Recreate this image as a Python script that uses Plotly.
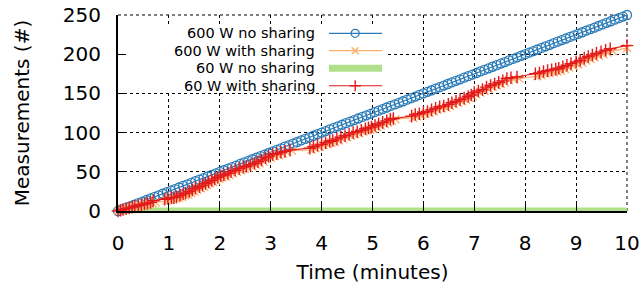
import plotly.graph_objects as go

# ---------------- data ----------------
series_names = ["600 W no sharing", "600 W with sharing", "60 W no sharing", "60 W with sharing"]
x_ticks = [0, 1, 2, 3, 4, 5, 6, 7, 8, 9, 10]
y_ticks = [0, 50, 100, 150, 200, 250]

blue_t = [0.00, 0.08, 0.16, 0.24, 0.32, 0.40, 0.48, 0.56, 0.64, 0.72,
          0.80, 0.88, 0.96, 1.04, 1.12, 1.20, 1.28, 1.36, 1.44, 1.52,
          1.60, 1.68, 1.76, 1.84, 1.92, 2.00, 2.08, 2.16, 2.24, 2.32,
          2.40, 2.48, 2.56, 2.64, 2.72, 2.80, 2.88, 2.96, 3.04, 3.12,
          3.20, 3.28, 3.36, 3.44, 3.52, 3.60, 3.68, 3.76, 3.84, 3.92,
          4.00, 4.08, 4.16, 4.24, 4.32, 4.40, 4.48, 4.56, 4.64, 4.72,
          4.80, 4.88, 4.96, 5.04, 5.12, 5.20, 5.28, 5.36, 5.44, 5.52,
          5.60, 5.68, 5.76, 5.84, 5.92, 6.00, 6.08, 6.16, 6.24, 6.32,
          6.40, 6.48, 6.56, 6.64, 6.72, 6.80, 6.88, 6.96, 7.04, 7.12,
          7.20, 7.28, 7.36, 7.44, 7.52, 7.60, 7.68, 7.76, 7.84, 7.92,
          8.00, 8.08, 8.16, 8.24, 8.32, 8.40, 8.48, 8.56, 8.64, 8.72,
          8.80, 8.88, 8.96, 9.04, 9.12, 9.20, 9.28, 9.36, 9.44, 9.52,
          9.60, 9.68, 9.76, 9.84, 9.92, 10.00]
blue_v = [0, 2, 4, 6, 8, 10, 12, 14, 16, 18,
          20, 22, 24, 26, 28, 30, 32, 34, 36, 38,
          40, 42, 44, 46, 48, 50, 52, 54, 56, 58,
          60, 62, 64, 66, 68, 70, 72, 74, 76, 78,
          80, 82, 84, 86, 88, 90, 92, 94, 96, 98,
          100, 102, 104, 106, 108, 110, 112, 114, 116, 118,
          120, 122, 124, 126, 128, 130, 132, 134, 136, 138,
          140, 142, 144, 146, 148, 150, 152, 154, 156, 158,
          160, 162, 164, 166, 168, 170, 172, 174, 176, 178,
          180, 182, 184, 186, 188, 190, 192, 194, 196, 198,
          200, 202, 204, 206, 208, 210, 212, 214, 216, 218,
          220, 222, 224, 226, 228, 230, 232, 234, 236, 238,
          240, 242, 244, 246, 248, 250]

orange_t = [0.00, 0.06, 0.12, 0.18, 0.25, 0.31, 0.37, 0.44, 0.50, 0.56, 0.62, 0.68, 0.74,
            0.95, 1.02, 1.08, 1.14, 1.20, 1.26, 1.32, 1.38, 1.44, 1.50, 1.56, 1.63, 1.69, 1.75, 1.81,
            1.87, 1.93, 1.99, 2.05, 2.12, 2.19, 2.26, 2.34, 2.42, 2.49, 2.56, 2.64, 2.71, 2.78, 2.86,
            2.93, 3.00, 3.08, 3.16, 3.24, 3.32, 3.42,
            3.80, 3.88, 3.96, 4.04, 4.12, 4.19, 4.26, 4.34, 4.42, 4.50, 4.58, 4.66, 4.74, 4.82, 4.89,
            4.95, 5.02, 5.09, 5.16, 5.24, 5.31, 5.38, 5.45,
            5.80, 5.88, 5.96, 6.04, 6.12, 6.20, 6.28, 6.36, 6.45, 6.52, 6.60, 6.68, 6.76, 6.84, 6.91,
            6.97, 7.04, 7.12, 7.20, 7.28, 7.36, 7.44, 7.52, 7.60, 7.68, 7.78, 7.88,
            8.24, 8.32, 8.40, 8.48, 8.56, 8.63, 8.70, 8.78, 8.86, 8.95, 9.04, 9.12, 9.20, 9.28, 9.36,
            9.45, 9.54, 9.62, 9.72,
            10.00]
orange_v = [0, 1, 2, 3, 4, 5, 6, 7, 7, 8, 9, 10, 11,
            13, 14, 15, 16, 17, 18, 20, 21, 23, 25, 27, 29, 31, 33, 35,
            37, 39, 41, 43, 44, 46, 48, 50, 52, 54, 55, 57, 59, 61, 63,
            66, 68, 70, 71, 73, 75, 77,
            78, 80, 82, 84, 85, 87, 88, 90, 92, 94, 96, 98, 99, 101, 103,
            104, 105, 107, 109, 111, 113, 115, 117,
            119, 121, 122, 124, 125, 127, 129, 131, 132, 134, 136, 138, 140, 142, 144,
            146, 149, 151, 153, 156, 158, 160, 162, 164, 167, 168, 169,
            172, 173, 175, 176, 177, 178, 179, 181, 183, 185, 187, 189, 192, 194, 196,
            198, 200, 202, 204,
            208]

green_t = [0.0, 2.0, 4.0, 6.0, 8.0, 10.0]
green_v = [0, 0, 0, 0, 0, 0]

red_t = [0.00, 0.05, 0.10, 0.16, 0.22, 0.28, 0.33, 0.40, 0.46, 0.52, 0.58, 0.64, 0.69,
         0.92, 0.98, 1.05, 1.10, 1.15, 1.22, 1.28, 1.33, 1.40, 1.46, 1.52, 1.60, 1.66, 1.72, 1.78,
         1.84, 1.90, 1.96, 2.02, 2.08, 2.16, 2.22, 2.30, 2.38, 2.46, 2.52, 2.60, 2.68, 2.75, 2.82,
         2.90, 2.96, 3.04, 3.12, 3.20, 3.28, 3.38,
         3.77, 3.84, 3.92, 4.00, 4.08, 4.16, 4.22, 4.30, 4.38, 4.46, 4.54, 4.62, 4.70, 4.78, 4.86,
         4.92, 4.98, 5.05, 5.12, 5.20, 5.28, 5.35, 5.41,
         5.77, 5.84, 5.92, 6.00, 6.08, 6.16, 6.24, 6.32, 6.40, 6.49, 6.56, 6.64, 6.72, 6.80, 6.88,
         6.94, 7.00, 7.08, 7.16, 7.24, 7.32, 7.40, 7.48, 7.56, 7.64, 7.72, 7.84,
         8.20, 8.28, 8.36, 8.44, 8.52, 8.60, 8.66, 8.74, 8.82, 8.90, 9.00, 9.08, 9.16, 9.24, 9.32,
         9.40, 9.49, 9.58, 9.67,
         10.00]
red_v = [0, 1, 2, 3, 4, 5, 6, 7, 8, 9, 10, 11, 13,
         15, 16, 17, 17, 18, 20, 22, 23, 25, 27, 29, 31, 33, 35, 37,
         39, 41, 43, 45, 46, 48, 50, 52, 54, 56, 57, 59, 61, 63, 65,
         68, 70, 72, 73, 75, 76, 78,
         80, 82, 84, 85, 87, 89, 90, 92, 94, 96, 98, 100, 101, 103, 105,
         106, 107, 109, 111, 113, 115, 117, 118,
         121, 123, 124, 126, 127, 129, 131, 133, 134, 136, 138, 140, 142, 144, 146,
         148, 151, 153, 155, 158, 160, 162, 164, 166, 169, 170, 171,
         175, 176, 178, 179, 180, 181, 182, 184, 186, 188, 190, 192, 195, 197, 199,
         201, 203, 205, 207,
         211]

# ---------------- style ----------------
BLUE = "#2a7bb8"
ORANGE = "#fdae6b"
GREEN = "#b2df8a"
RED = "#e31a1c"
FONT = "DejaVu Sans"

styles = [
    dict(color=BLUE, symbol="circle-open", size=9, lw=1.2, mlw=1.3, mode="lines+markers"),
    dict(color=ORANGE, symbol="x-thin-open", size=8, lw=1.2, mlw=1.4, mode="lines+markers"),
    dict(color=GREEN, symbol=None, size=0, lw=7, mlw=0, mode="lines"),
    dict(color=RED, symbol="cross-thin-open", size=9, lw=1.1, mlw=1.4, mode="lines+markers"),
]

data = [(blue_t, blue_v), (orange_t, orange_v), (green_t, green_v), (red_t, red_v)]
draw_order = [2, 0, 1, 3]

fig = go.Figure()
for i in draw_order:
    st = styles[i]
    t, v = data[i]
    kw = dict(x=t, y=v, mode=st["mode"], name=series_names[i], showlegend=False,
              line=dict(color=st["color"], width=st["lw"]), cliponaxis=False)
    if st["symbol"]:
        kw["marker"] = dict(symbol=st["symbol"], size=st["size"],
                            color=st["color"], line=dict(color=st["color"], width=st["mlw"]))
    fig.add_trace(go.Scatter(**kw))

# ---------------- custom legend (text left, sample right) ----------------
leg_x0, leg_x1, leg_xm = 0.4145, 0.5187, 0.466
leg_rows = [0.9066, 0.818, 0.728, 0.639]
leg_text_x = 0.390
box_x = [0.004, 0.525, 0.525, 0.004, 0.004]
box_y = [0.602, 0.602, 0.949, 0.949, 0.602]

# white legend background (drawn on the overlay axes so it covers the grid)
fig.add_trace(go.Scatter(x=box_x, y=box_y, mode="lines", fill="toself", fillcolor="white",
                         line=dict(width=0, color="white"), xaxis="x2", yaxis="y2",
                         showlegend=False, hoverinfo="skip"))

for i in range(4):
    st = styles[i]
    y = leg_rows[i]
    fig.add_trace(go.Scatter(x=[leg_x0, leg_x1], y=[y, y], mode="lines", xaxis="x2", yaxis="y2",
                             line=dict(color=st["color"], width=st["lw"]), showlegend=False,
                             hoverinfo="skip"))
    if st["symbol"]:
        fig.add_trace(go.Scatter(x=[leg_xm], y=[y], mode="markers", xaxis="x2", yaxis="y2",
                                 marker=dict(symbol=st["symbol"], size=st["size"] - 1, color=st["color"],
                                             line=dict(color=st["color"], width=st["mlw"])),
                                 showlegend=False, hoverinfo="skip"))
    fig.add_annotation(text=series_names[i], xref="paper", yref="paper", x=leg_text_x, y=y,
                       xanchor="right", yanchor="middle", showarrow=False,
                       font=dict(family=FONT, size=14.5, color="black"))

# dotted top / right border (gnuplot grid at the range ends)
fig.add_shape(type="line", xref="paper", yref="paper", x0=0, x1=1, y0=1, y1=1,
              line=dict(color="black", width=1, dash="dot"), layer="below")
fig.add_shape(type="line", xref="paper", yref="paper", x0=1, x1=1, y0=0, y1=1,
              line=dict(color="black", width=1, dash="dot"), layer="below")

axis_common = dict(
    showgrid=True, gridcolor="black", griddash="dot", gridwidth=1,
    showline=True, linecolor="black", linewidth=2,
    ticks="inside", ticklen=8, tickwidth=1, tickcolor="black",
    zeroline=False, mirror=False, automargin=False, ticklabeloverflow="allow",
    tickfont=dict(family=FONT, size=20, color="black"),
)

fig.update_layout(
    width=642, height=285,
    margin=dict(l=118, r=15, t=15, b=74),
    paper_bgcolor="white", plot_bgcolor="white",
    font=dict(family=FONT, color="black"),
    xaxis=dict(range=[0, 10], tickvals=x_ticks, ticklabelstandoff=13,
               title=dict(text="Time (minutes)", font=dict(family=FONT, size=20), standoff=11),
               **axis_common),
    yaxis=dict(range=[0, 250], tickvals=y_ticks, ticklabelstandoff=11,
               title=dict(text="Measurements (#)", font=dict(family=FONT, size=20), standoff=28),
               **axis_common),
    xaxis2=dict(overlaying="x", range=[0, 1], visible=False, fixedrange=True, automargin=False),
    yaxis2=dict(overlaying="y", range=[0, 1], visible=False, fixedrange=True, automargin=False),
    showlegend=False,
)

# remove the page's default 8 px body margin so the figure fills the window
fig.write_html("out.html", config={"displayModeBar": False},
               post_script="document.body.style.margin='0px';")
